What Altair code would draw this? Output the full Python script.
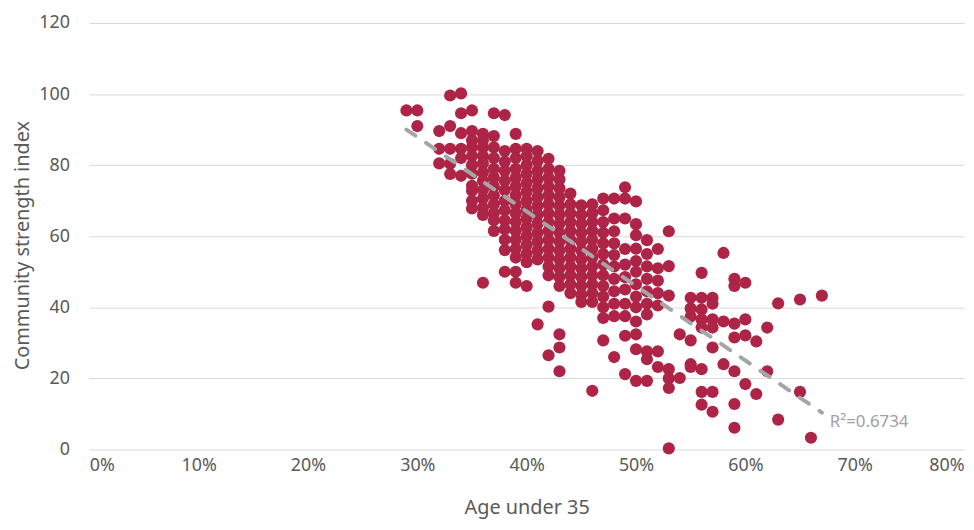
import altair as alt
import pandas as pd
import numpy as np

# Share of population aged under 35 (%), one entry per column of dots
column_pcts = [29, 30, 32, 33, 34, 35, 36, 37, 38, 39, 40, 41, 42, 43, 44, 45, 46, 47,
               48, 49, 50, 51, 52, 53, 54, 55, 56, 57, 58, 59, 60, 61, 62, 63, 65, 66, 67]

# Community strength index values read for each column above
column_values = [
    [95.4],
    [95.4, 91.0],
    [89.6, 84.6, 80.5],
    [99.6, 91.0, 84.6, 80.4, 77.5],
    [100.2, 94.6, 89.0, 84.6, 82.0, 77.0],
    [95.4, 89.6, 87.0, 85.0, 82.6, 80.0, 77.6, 74.2, 72.8, 70.0, 67.8],
    [88.8, 87.0, 85.0, 82.6, 80.5, 78.0, 75.6, 73.0, 70.6, 68.0, 66.0, 46.9],
    [94.6, 88.2, 85.0, 82.0, 79.0, 76.5, 74.0, 71.5, 69.0, 66.5, 64.5, 61.5],
    [94.1, 84.0, 81.0, 78.4, 75.6, 73.0, 70.0, 67.3, 64.5, 62.0, 59.0, 56.1, 50.0],
    [88.8, 84.6, 82.0, 79.0, 76.5, 74.0, 71.5, 69.0, 66.5, 64.0, 61.5, 59.0, 56.5, 54.0, 50.0, 46.9],
    [84.6, 82.6, 80.0, 77.5, 75.0, 72.5, 70.0, 67.5, 65.0, 62.5, 60.0, 57.5, 55.0, 52.7, 46.0],
    [84.0, 81.2, 78.4, 76.0, 73.5, 71.0, 68.5, 66.0, 63.5, 61.0, 58.5, 56.0, 53.5, 35.2],
    [81.8, 79.0, 76.5, 74.0, 71.5, 69.0, 66.5, 64.0, 61.5, 59.0, 56.5, 54.0, 51.5, 49.0, 40.2, 26.5],
    [78.4, 76.0, 73.5, 71.0, 68.5, 66.0, 63.5, 61.0, 58.5, 56.0, 53.5, 51.0, 48.5, 46.0, 32.4, 28.7, 22.0],
    [72.0, 69.0, 66.5, 64.0, 61.5, 59.0, 56.5, 54.0, 51.5, 49.0, 46.5, 44.0],
    [68.7, 66.0, 63.5, 61.0, 58.5, 56.0, 53.5, 51.0, 48.5, 46.0, 43.5, 41.5],
    [69.0, 66.5, 64.0, 61.5, 59.0, 56.5, 54.0, 51.5, 49.0, 46.5, 44.0, 41.5, 16.5],
    [70.6, 67.3, 64.0, 61.0, 58.0, 55.0, 52.0, 49.0, 46.0, 43.0, 40.0, 37.0, 30.7],
    [70.6, 65.0, 61.4, 58.0, 54.7, 51.5, 48.0, 44.5, 41.0, 37.5, 26.0],
    [73.8, 70.6, 65.0, 56.4, 52.0, 48.5, 45.0, 41.0, 37.5, 32.0, 21.2],
    [69.8, 63.4, 60.3, 56.5, 53.0, 50.0, 46.5, 43.0, 40.0, 36.0, 32.4, 28.2, 19.3],
    [58.9, 55.0, 51.5, 48.0, 44.5, 41.0, 38.0, 27.6, 25.4, 19.3],
    [56.4, 51.0, 47.5, 44.0, 40.5, 27.6, 23.2],
    [61.4, 51.6, 43.3, 22.6, 20.0, 17.3, 0.3],
    [32.4, 20.1],
    [42.7, 39.7, 37.4, 30.7, 24.0, 23.2],
    [49.7, 42.7, 39.4, 36.6, 34.3, 22.6, 16.2, 12.6],
    [42.7, 41.0, 36.6, 34.3, 28.7, 16.2, 10.6],
    [55.3, 36.0, 24.0],
    [48.0, 46.0, 35.4, 31.5, 22.0, 12.8, 6.1],
    [46.9, 36.6, 32.1, 18.4],
    [30.4, 15.6],
    [34.3, 22.0],
    [41.1, 8.4],
    [42.2, 16.2],
    [3.3],
    [43.3],
]

x_ticks = [0, 0.1, 0.2, 0.3, 0.4, 0.5, 0.6, 0.7, 0.8]
y_ticks = [0, 20, 40, 60, 80, 100, 120]
r2_label = "R\u00b2=0.6734"
x_title = "Age under 35"
y_title = "Community strength index"

rows = []
for pct, vals in zip(column_pcts, column_values):
    for v in vals:
        rows.append({"x": pct / 100.0, "y": v})
df = pd.DataFrame(rows)

RED = "#AD2447"
GREY = "#A5A5A5"
TEXT = "#595959"
FONT = "Noto Sans"

x_enc = alt.X(
    "x:Q",
    scale=alt.Scale(domain=[0, 0.8], nice=False, zero=False),
    axis=alt.Axis(
        values=x_ticks, format=".0%", labelFlush=True, grid=False, ticks=False,
        domain=False, labelPadding=7, labelFontSize=18, labelColor=TEXT,
        labelFont=FONT, title=x_title, titleFontSize=20, titleColor=TEXT,
        titleFont=FONT, titleFontWeight="normal", titleY=65,
        titleBaseline="alphabetic",
    ),
)
y_enc = alt.Y(
    "y:Q",
    scale=alt.Scale(domain=[0, 120], nice=False),
    axis=alt.Axis(
        values=y_ticks, grid=True, gridColor="#D9D9D9", gridWidth=1, ticks=False,
        domain=False, labelPadding=20, labelFontSize=18, labelColor=TEXT,
        labelFont=FONT, title=y_title, titleFontSize=20, titleColor=TEXT,
        titleFont=FONT, titleFontWeight="normal", titleX=-67, titleY=224,
        titleBaseline="middle", titleAngle=270,
    ),
)

base = alt.Chart(df)

points = base.mark_circle(size=150, opacity=1, color=RED).encode(x=x_enc, y=y_enc)

trend = base.transform_regression("x", "y").mark_line(
    color=GREY, strokeWidth=4, strokeDash=[11, 13], strokeCap="round"
).encode(x="x:Q", y="y:Q")

label = (
    base.transform_regression("x", "y")
    .transform_joinaggregate(xmax="max(x)")
    .transform_filter("datum.x == datum.xmax")
    .mark_text(align="left", baseline="middle", dx=8, dy=10, fontSize=17,
               color="#A0A0A0", font=FONT)
    .encode(x="x:Q", y="y:Q", text=alt.value(r2_label))
)

chart = (
    alt.layer(points, trend, label)
    .properties(
        width=882, height=430,
        autosize=alt.AutoSizeParams(type="none"),
        padding={"left": 82, "top": 13, "right": 2, "bottom": 71},
    )
    .configure_view(stroke=None)
)

chart.save("out.html", embed_options={"renderer": "svg", "actions": False})
